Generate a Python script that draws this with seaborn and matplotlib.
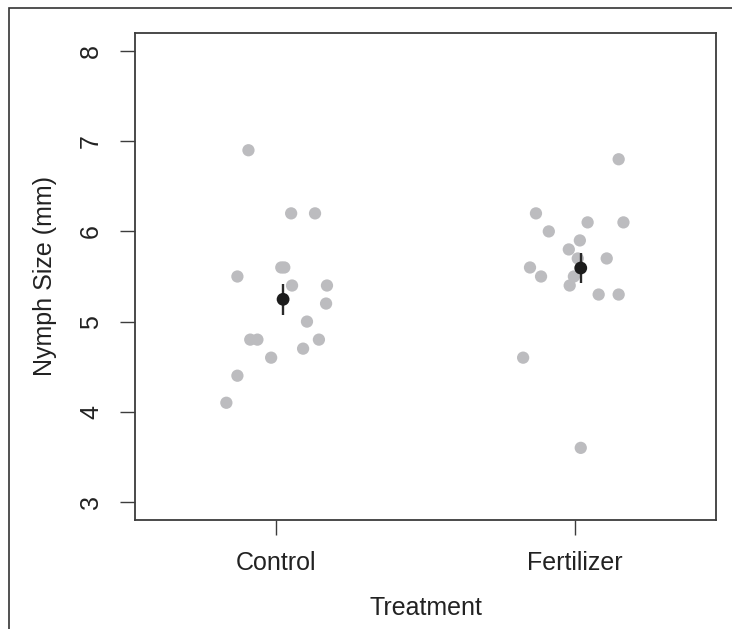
import numpy as np
import pandas as pd
import matplotlib
matplotlib.use("Agg")
import matplotlib.pyplot as plt
import seaborn as sns
from matplotlib.patches import Rectangle

# ---- data ----
treatments = ["Control", "Fertilizer"]
control_size = [6.9, 6.2, 6.2, 5.6, 5.6, 5.5, 5.4, 5.4, 5.2, 5.0,
                4.8, 4.8, 4.8, 4.7, 4.6, 4.4, 4.1]
control_jitter = [-0.093, 0.050, 0.130, 0.017, 0.027, -0.130, 0.053, 0.170, 0.167, 0.103,
                  -0.087, -0.063, 0.143, 0.090, -0.017, -0.130, -0.167]
fert_size = [6.8, 6.2, 6.1, 6.1, 6.0, 5.9, 5.8, 5.7, 5.7, 5.6,
             5.5, 5.5, 5.4, 5.3, 5.3, 4.6, 3.6]
fert_jitter = [0.147, -0.130, 0.043, 0.163, -0.087, 0.017, -0.020, 0.010, 0.107, -0.150,
               -0.113, -0.003, -0.017, 0.080, 0.147, -0.173, 0.020]
mean_jitter = [0.023, 0.020]
y_ticks = [3, 4, 5, 6, 7, 8]

df = pd.DataFrame({
    "Treatment": [treatments[0]] * len(control_size) + [treatments[1]] * len(fert_size),
    "Size": control_size + fert_size,
    "Jitter": control_jitter + fert_jitter,
})
df["Pos"] = df["Treatment"].map({t: i + 1 for i, t in enumerate(treatments)}) + df["Jitter"]

stats = df.groupby("Treatment", sort=False)["Size"].agg(["mean", "std", "count"]).reset_index()
stats["se"] = stats["std"] / np.sqrt(stats["count"])
stats["Pos"] = [i + 1 + j for i, j in enumerate(mean_jitter)]

# ---- figure ----
sns.set_style("white")
plt.rcParams["font.family"] = ["Liberation Sans", "DejaVu Sans"]
fig = plt.figure(figsize=(7.32, 6.29), dpi=100)
ax = fig.add_axes([135.3 / 732, 1 - 520 / 629, (715.7 - 135.3) / 732, (520 - 33) / 629])

sns.scatterplot(data=df, x="Pos", y="Size", ax=ax, color="#bcbcbf", s=78,
                edgecolor="none", linewidth=0, zorder=2)
ax.vlines(stats["Pos"], stats["mean"] - stats["se"], stats["mean"] + stats["se"],
          color="#2a2a2a", linewidth=1.7, zorder=3)
sns.scatterplot(data=stats, x="Pos", y="mean", ax=ax, color="#1c1c1c", s=85,
                edgecolor="none", linewidth=0, zorder=4)

ax.set_xlim(0.528, 2.472)
ax.set_ylim(2.8, 8.2)
ax.set_xticks([1, 2])
ax.set_xticklabels(treatments)
ax.set_yticks(y_ticks)
ax.set_yticklabels([str(t) for t in y_ticks], rotation=90, va="center")

for sp in ax.spines.values():
    sp.set_visible(True)
    sp.set_color("#3c3c3c")
    sp.set_linewidth(1.3)

ax.tick_params(axis="both", which="major", direction="out", length=10.8, width=1.0,
               color="#3c3c3c", labelsize=18, labelcolor="#222222",
               bottom=True, left=True, top=False, right=False)
ax.tick_params(axis="y", pad=12.5)
ax.tick_params(axis="x", pad=11.5)

ax.set_xlabel("Treatment", fontsize=18, color="#222222", labelpad=15)
ax.set_ylabel("Nymph Size (mm)", fontsize=18, color="#222222", labelpad=15.5)

# outer frame (cut off at right and bottom)
fig.patches.append(Rectangle((8.5 / 732, -0.2), 1.2, 1.2 - 8.0 / 629,
                             transform=fig.transFigure, fill=False,
                             edgecolor="#333333", linewidth=1.2))

fig.savefig("out.png", dpi=100, facecolor="white")
